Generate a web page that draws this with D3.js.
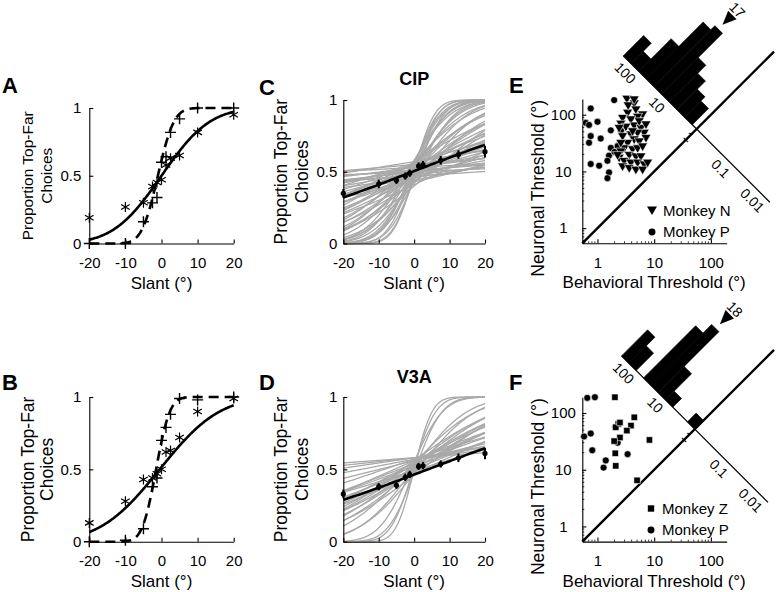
<!DOCTYPE html>
<html><head><meta charset="utf-8">
<script src="https://cdn.jsdelivr.net/npm/d3@7"></script>
<style>
body{margin:0;background:#fff}
svg{display:block}
text{font-family:Arial,"Liberation Sans",Helvetica,sans-serif;fill:#000}
</style></head>
<body><svg id="chart" width="777" height="592"></svg>
<script>
// ---------------- DATA ----------------
const slantTicks = [-20, -10, 0, 10, 20];
const propTicks = [0, 0.5, 1];
const threshTicks = [1, 10, 100];
const threshMinor = [0.6,0.7,0.8,0.9,2,3,4,5,6,7,8,9,20,30,40,50,60,70,80,90];
const ratioTicks = [100, 10, 1, 0.1, 0.01];
const ratioTickLabels = ["100", "10", "1", "0.1", "0.01"];

// Panel A (slant, proportion)
const aStar = [[-20,0.19],[-10,0.27],[-5,0.30],[-2.5,0.42],[-1.25,0.45],[0,0.47],[1.25,0.58],[2.5,0.63],[5,0.65],[10,0.82],[20,0.95]];
const aPlus = [[-20,0.00],[-10,0.00],[-5,0.16],[-2.5,0.30],[-1.25,0.34],[0,0.60],[1.25,0.64],[2.5,0.82],[5,0.92],[10,1.00],[20,1.00]];
const aFitSolid = [0, 10.5];   // [mean, sigma]
const aFitDashed = [-1, 3.5];

// Panel B
const bStar = [[-20,0.13],[-10,0.28],[-5,0.43],[-2.5,0.44],[-1.25,0.47],[0,0.50],[1.25,0.62],[2.5,0.63],[5,0.72],[10,0.90],[20,0.99]];
const bPlus = [[-20,0.00],[-10,0.01],[-5,0.09],[-2.5,0.38],[-1.25,0.44],[0,0.70],[1.25,0.79],[2.5,0.88],[5,0.99],[10,0.98],[20,1.00]];
const bFitSolid = [-0.5, 13];
const bFitDashed = [-1.5, 3];

// Panel C (CIP) population means and errors
const cMean = [[-20,0.35],[-10,0.415],[-5,0.44],[-2.5,0.47],[-1.25,0.49],[1.25,0.54],[2.5,0.55],[7.5,0.58],[12.5,0.62],[20,0.64]];
const cErr = [0.03,0.03,0.025,0.025,0.025,0.025,0.025,0.03,0.03,0.04];
const cFit = [-0.5, 42];
const cipSigma = [4.5,5,5.5,6,6.5,7,7.5,8,8.5,9,10,11,12,13,14,15,16,17,18,20,21,23,25,27,29,31,34,37,40,43,47,51,56,61,67,74,82,90,100,112,125,140,160,185,215,250,300,380,9.5,19,26,33,45,70,130,6.8];
const cipP0 = [0.50,0.47,0.53,0.45,0.55,0.49,0.52,0.44,0.57,0.48,0.51,0.46,0.54,0.42,0.56,0.49,0.52,0.45,0.55,0.48,0.51,0.43,0.57,0.50,0.46,0.53,0.41,0.55,0.48,0.52,0.45,0.56,0.50,0.47,0.54,0.44,0.52,0.49,0.57,0.46,0.53,0.50,0.48,0.55,0.51,0.47,0.53,0.50,0.58,0.40,0.52,0.47,0.55,0.43,0.50,0.54];

// Panel D (V3A)
const dMean = [[-20,0.33],[-10,0.38],[-5,0.39],[-2.5,0.445],[-1.25,0.465],[1.25,0.52],[2.5,0.525],[7.5,0.537],[12.5,0.58],[20,0.61]];
const dErr = [0.03,0.025,0.025,0.025,0.025,0.025,0.025,0.025,0.03,0.04];
const dFit = [3.9, 43];
const v3aSigma = [4,5,6,7,12,13,15,19,20,21,22,23,24,25,27,29,31,33,35,37,40,42,45,48,52,65,85,110,150,220];
const v3aP0 = [0.50,0.52,0.48,0.55,0.51,0.47,0.54,0.50,0.53,0.46,0.56,0.49,0.52,0.54,0.48,0.55,0.51,0.53,0.47,0.56,0.50,0.54,0.52,0.57,0.49,0.56,0.57,0.58,0.58,0.58];

// Panel E (behavioral, neuronal thresholds)
const eMonkeyN = [[3.3,187],[4.44,155],[4.76,121],[3.4,106],[6.25,99],[5.1,90],[2.77,86],[3.88,81],[2.58,68],[4.44,63],[3.17,60],[5.84,57],[6.68,47],[5.1,47],[3.88,44],[2.77,41],[7.16,38],[4.44,36],[5.45,33],[3.4,31],[2.96,25],[4.16,24],[5.1,25],[6.25,27],[2.58,22],[3.63,19],[4.76,18],[5.84,18],[2.41,17],[2.96,15],[3.88,14],[5.1,14],[6.68,13],[2.77,12],[3.63,11.2],[4.76,10.5],[6.25,10.5],[7.67,14],[2.26,19],[4.16,50],[2.41,57],[5.45,75],[3.48,143],[4.44,182],[2.58,31],[7.16,66]];
const eMonkeyP = [[1.97,181],[0.76,129],[0.62,72],[1.0,75],[0.71,66],[0.76,42],[0.71,32],[1.14,38],[1.72,53],[2.6,52],[1.72,26],[1.6,19],[0.76,13.5],[1.07,12.6],[1.5,15.4],[1.6,9.6],[1.5,7.6],[2.27,28],[2.0,22]];
const eHistEdges = [200,114.8,65.9,37.8,21.7,12.5,7.16,4.11,2.36,1.36];
const eHistCounts = [5,3,8,14,15,9,7,5,4];
const eMedian = 17;

// Panel F
const fMonkeyZ = [[2.03,190],[2.32,64],[4.46,84],[3.9,60],[3.3,49],[2.49,37],[1.97,32],[2.06,19.5],[2.1,11.7],[8.25,33.5],[5.0,6.5],[2.1,56],[2.49,68]];
const fMonkeyP = [[0.66,185],[0.9,190],[0.58,38.6],[0.76,43.5],[0.81,22],[1.28,10.9],[1.4,14.6],[3.4,18.8],[2.06,57],[2.27,30]];
const fHistEdges = [200,117.8,69.3,40.8,24.0,14.2,8.32,4.90,2.88,1.70,1.0];
const fHistCounts = [3,2,0,6,7,3,1,0,0,1];
const fMedian = 18;

// ---------------- HELPERS ----------------
const svg = d3.select("#chart");
function ncdf(z){const t=1/(1+0.2316419*Math.abs(z));const d=0.3989423*Math.exp(-z*z/2);
  const p=d*t*(0.3193815+t*(-0.3565638+t*(1.781478+t*(-1.821256+t*1.330274))));return z>0?1-p:p;}
function probit(p){let lo=-10,hi=10;for(let i=0;i<60;i++){const m=(lo+hi)/2;if(ncdf(m)<p)lo=m;else hi=m;}return (lo+hi)/2;}
const sampleSlants = d3.range(-20, 20.0001, 0.2);

function styleAxis(ax, fs){
  ax.select(".domain").attr("stroke","#000").attr("stroke-width",1.1);
  ax.selectAll(".tick line").attr("stroke","#000").attr("stroke-width",1.1);
  ax.selectAll(".tick text").attr("font-size",fs).attr("fill","#000")
    .attr("font-family",'Arial,"Liberation Sans",sans-serif');
}

function letter(t,x,y){svg.append("text").attr("x",x).attr("y",y).attr("font-size",22).attr("font-weight","bold").text(t);}

function linAxes(L){
  const x = d3.scaleLinear().domain([-20,20]).range([L.x0,L.x1]);
  const y = d3.scaleLinear().domain([0,1]).range([L.yBot,L.yTop]);
  const g = svg.append("g");
  const ax = g.append("g").attr("transform",`translate(0,${L.yBot})`)
    .call(d3.axisBottom(x).tickValues(slantTicks).tickFormat(d=>String(d)).tickSizeInner(-4).tickSizeOuter(0).tickPadding(L.xpad));
  styleAxis(ax, L.fs);
  const ay = g.append("g").attr("transform",`translate(${L.x0},0)`)
    .call(d3.axisLeft(y).tickValues(propTicks).tickFormat(d=>String(d)).tickSizeInner(-4).tickSizeOuter(0).tickPadding(L.ypad));
  styleAxis(ay, L.fs);
  const cx = (L.x0+L.x1)/2, cy=(L.yBot+L.yTop)/2;
  g.append("text").attr("x",cx).attr("y",L.yBot+45).attr("text-anchor","middle").attr("font-size",17).text("Slant (°)");
  g.append("text").attr("transform",`translate(${L.lab1},${cy}) rotate(-90)`).attr("text-anchor","middle").attr("font-size",L.lfs).text("Proportion Top-Far");
  g.append("text").attr("transform",`translate(${L.lab2},${cy}) rotate(-90)`).attr("text-anchor","middle").attr("font-size",L.lfs).text("Choices");
  return {x,y,g};
}

const starPath = "M0,-5V5M-4.3,-2.5L4.3,2.5M-4.3,2.5L4.3,-2.5";
const plusPath = "M-5.5,0H5.5M0,-5.5V5.5";

function psychPanel(L, star, plus, fitS, fitD){
  const {x,y,g} = linAxes(L);
  const curve = (p)=> d3.line().x(s=>x(s)).y(s=>y(ncdf((s-p[0])/p[1])))(sampleSlants);
  g.append("path").attr("d",curve(fitD)).attr("fill","none").attr("stroke","#000").attr("stroke-width",2.6).attr("stroke-dasharray","10,6");
  g.append("path").attr("d",curve(fitS)).attr("fill","none").attr("stroke","#000").attr("stroke-width",2.6);
  g.selectAll(".st").data(star).join("path").attr("d",starPath).attr("transform",d=>`translate(${x(d[0])},${y(d[1])})`).attr("stroke","#000").attr("stroke-width",1.2).attr("fill","none");
  g.selectAll(".pl").data(plus).join("path").attr("d",plusPath).attr("transform",d=>`translate(${x(d[0])},${y(d[1])})`).attr("stroke","#000").attr("stroke-width",1.4).attr("fill","none");
}

function neuroPanel(L, sig, p0, mean, err, fit, title){
  const {x,y,g} = linAxes(L);
  const gr = g.insert("g",":first-child");
  sig.forEach((s,i)=>{
    const mu = -s*probit(p0[i]);
    gr.append("path").attr("d", d3.line().x(v=>x(v)).y(v=>y(ncdf((v-mu)/s)))(sampleSlants))
      .attr("fill","none").attr("stroke","#a9a9a9").attr("stroke-width",1.3);
  });
  g.append("path").attr("d", d3.line().x(v=>x(v)).y(v=>y(ncdf((v-fit[0])/fit[1])))(sampleSlants))
    .attr("fill","none").attr("stroke","#000").attr("stroke-width",2.6);
  mean.forEach((d,i)=>{
    g.append("line").attr("x1",x(d[0])).attr("x2",x(d[0])).attr("y1",y(d[1]-err[i])).attr("y2",y(d[1]+err[i])).attr("stroke","#000").attr("stroke-width",2);
    g.append("circle").attr("cx",x(d[0])).attr("cy",y(d[1])).attr("r",2.6).attr("fill","#000");
  });
  g.append("text").attr("x",(L.x0+L.x1)/2).attr("y",L.titleY).attr("text-anchor","middle").attr("font-size",18).attr("font-weight","bold").text(title);
}

const triPath = "M-5,-4L5,-4L0,4.5Z";
function markerPath(kind){
  if(kind==="tri") return triPath;
  if(kind==="sq") return "M-3.2,-3.2H3.2V3.2H-3.2Z";
  return d3.symbol(d3.symbolCircle, 38)();
}

function threshPanel(L, ptsA, kindA, nameA, ptsB, kindB, nameB, edges, counts, median){
  const x = d3.scaleLog().domain([0.54,190]).range([L.x0, L.x0 + Math.log10(190/0.54)*L.dec]);
  const y = d3.scaleLog().domain([0.54,190]).range([L.yBot, L.yBot - Math.log10(190/0.54)*L.dec]);
  const g = svg.append("g");
  const ax = g.append("g").attr("transform",`translate(0,${L.yBot})`)
    .call(d3.axisBottom(x).tickValues(threshTicks).tickFormat(d3.format("d")).tickSizeInner(-4).tickSizeOuter(0).tickPadding(14));
  styleAxis(ax, 15);
  const ay = g.append("g").attr("transform",`translate(${L.x0},0)`)
    .call(d3.axisLeft(y).tickValues(threshTicks).tickFormat(d3.format("d")).tickSizeInner(-4).tickSizeOuter(0).tickPadding(19));
  styleAxis(ay, 15);
  ay.selectAll(".tick text").attr("text-anchor","middle");
  threshMinor.forEach(v=>{
    g.append("line").attr("x1",x(v)).attr("x2",x(v)).attr("y1",L.yBot).attr("y2",L.yBot-2).attr("stroke","#000").attr("stroke-width",0.8);
    g.append("line").attr("x1",L.x0).attr("x2",L.x0+2).attr("y1",y(v)).attr("y2",y(v)).attr("stroke","#000").attr("stroke-width",0.8);
  });
  g.append("text").attr("x",(x(1)+x(100))/2).attr("y",L.yBot+45).attr("text-anchor","middle").attr("font-size",17).text("Behavioral Threshold (°)");
  g.append("text").attr("transform",`translate(${L.x0-38},${L.yBot-55}) rotate(-90)`).attr("text-anchor","middle").attr("font-size",17.5).text("Neuronal Threshold (°)");
  // unity line
  g.append("line").attr("x1",x(0.54)).attr("y1",y(0.54)).attr("x2",x(L.diagMax)).attr("y2",y(L.diagMax)).attr("stroke","#000").attr("stroke-width",2.4);
  // points
  const drawPts = (pts, kind)=> g.append("g").selectAll("path").data(pts).join("path")
      .attr("d",markerPath(kind)).attr("transform",d=>`translate(${x(d[0])},${y(d[1])})`)
      .attr("fill","#000").attr("stroke","#fff").attr("stroke-width",0.6);
  drawPts(ptsB, kindB);
  drawPts(ptsA, kindA);
  // legend
  [[kindA,nameA],[kindB,nameB]].forEach((d,i)=>{
    const ly = L.legY + i*21.5;
    g.append("path").attr("d",markerPath(d[0])).attr("transform",`translate(${L.legX},${ly})`).attr("fill","#000");
    g.append("text").attr("x",L.legX+11).attr("y",ly+5).attr("font-size",15).text(d[1]);
  });
  // rotated ratio histogram
  const half = Math.log10(200)*45;
  const hs = d3.scaleLog().domain([200,0.005]).range([0, 2*half]);
  const cx = x(L.cross), cy = y(L.cross);
  const sx = cx - half/Math.SQRT2, sy = cy - half/Math.SQRT2;
  const hg = g.append("g").attr("transform",`translate(${sx},${sy}) rotate(45)`);
  const maxC = d3.max(counts);
  const hv = d3.scaleLinear().domain([0,maxC]).range([0,86]);
  counts.forEach((c,i)=>{
    if(c<=0) return;
    hg.append("rect").attr("x",hs(edges[i])).attr("width",hs(edges[i+1])-hs(edges[i]))
      .attr("y",-hv(c)).attr("height",hv(c)).attr("fill","#000").attr("stroke","#000").attr("stroke-width",0.6);
  });
  hg.append("line").attr("x1",0).attr("x2",2*half).attr("y1",0).attr("y2",0).attr("stroke","#000").attr("stroke-width",1.3);
  ratioTicks.forEach((t,i)=>{
    hg.append("text").attr("x",hs(t)).attr("y",11).attr("dy","0.35em").attr("text-anchor","middle").attr("font-size",14).text(ratioTickLabels[i]);
  });
  const mu = hs(median);
  hg.append("path").attr("d",`M${mu},-92L${mu-6},-106L${mu+6},-106Z`).attr("fill","#000");
  hg.append("text").attr("x",mu).attr("y",-113).attr("dy","0.35em").attr("text-anchor","middle").attr("font-size",14).text(String(median));
}

// ---------------- LAYOUT & DRAW ----------------
psychPanel({x0:89.3,x1:233.7,yTop:108,yBot:243.5,fs:15,lfs:15.5,xpad:14,ypad:8,lab1:33,lab2:51.5}, aStar, aPlus, aFitSolid, aFitDashed);
psychPanel({x0:89.3,x1:233.7,yTop:397,yBot:541.7,fs:15,lfs:17.5,xpad:14,ypad:8,lab1:34,lab2:52.5}, bStar, bPlus, bFitSolid, bFitDashed);
neuroPanel({x0:343.3,x1:485,yTop:100,yBot:243.5,fs:15,lfs:17.5,xpad:14,ypad:6,lab1:286.5,lab2:308,titleY:85}, cipSigma, cipP0, cMean, cErr, cFit, "CIP");
neuroPanel({x0:343.3,x1:485,yTop:397,yBot:541.7,fs:15,lfs:17.5,xpad:14,ypad:6,lab1:286.5,lab2:308,titleY:383}, v3aSigma, v3aP0, dMean, dErr, dFit, "V3A");
threshPanel({x0:582.3,yBot:243.3,dec:56.7,diagMax:1300,cross:56,legX:652,legY:210.5}, eMonkeyN,"tri","Monkey N", eMonkeyP,"circ","Monkey P", eHistEdges, eHistCounts, eMedian);
threshPanel({x0:582.3,yBot:541.6,dec:56.7,diagMax:1300,cross:52,legX:651,legY:508.5}, fMonkeyZ,"sq","Monkey Z", fMonkeyP,"circ","Monkey P", fHistEdges, fHistCounts, fMedian);

letter("A",2,93); letter("B",2,390); letter("C",259,95); letter("D",259,390); letter("E",509,93); letter("F",509,390);
</script></body></html>
